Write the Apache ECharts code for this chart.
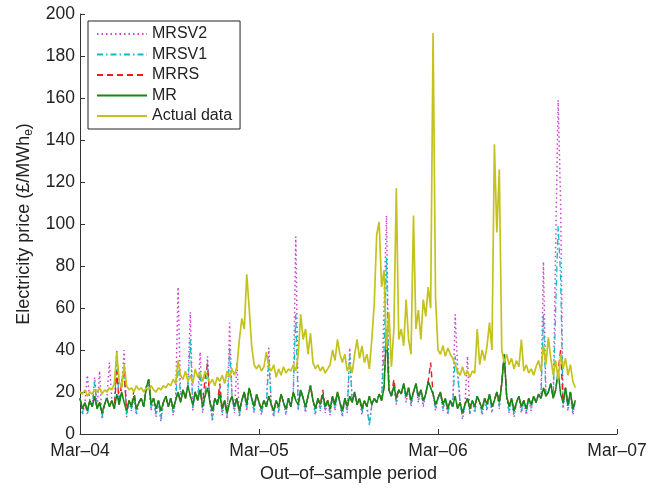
<!DOCTYPE html>
<html>
<head>
<meta charset="utf-8">
<script src="https://cdn.jsdelivr.net/npm/echarts@6/dist/echarts.min.js"></script>
<style>
  html, body { margin: 0; padding: 0; background: #fff; }
  #chart { width: 659px; height: 490px; }
</style>
</head>
<body>
<div id="chart"></div>
<script>
// Day offset from 1 Mar 2004 between consecutive samples
const stepDays = 5

const tickLabels = ['Mar–04', 'Mar–05', 'Mar–06', 'Mar–07']

const seriesNames = ['MRSV2', 'MRSV1', 'MRRS', 'MR', 'Actual data']

const mrsv2 = [
  17, 9, 15, 28, 16, 13, 27, 12, 30, 7,
  14, 18, 34, 16, 12, 40, 14, 22, 40, 8,
  16, 11, 18, 9, 15, 17, 13, 22, 26, 11,
  17, 8, 16, 6, 15, 18, 13, 17, 9, 16,
  70, 20, 21, 17, 23, 58, 11, 20, 16, 39,
  10, 18, 37, 15, 6, 17, 14, 22, 9, 16,
  7, 53, 18, 10, 34, 8, 16, 20, 11, 22,
  17, 10, 19, 15, 9, 16, 13, 41, 14, 8,
  16, 10, 19, 15, 9, 17, 13, 20, 94, 11,
  21, 17, 10, 18, 23, 16, 9, 17, 11, 19,
  10, 16, 9, 18, 11, 20, 15, 8, 17, 10,
  41, 15, 20, 14, 17, 9, 16, 13, 5, 14,
  17, 15, 19, 16, 60, 104, 21, 18, 23, 14,
  21, 19, 24, 15, 22, 13, 20, 24, 15, 21,
  13, 19, 25, 22, 19, 11, 17, 20, 11, 17,
  9, 16, 13, 57, 32, 15, 7, 14, 37, 9,
  16, 10, 18, 15, 9, 17, 11, 19, 10, 16,
  20, 12, 24, 38, 18, 10, 17, 8, 15, 18,
  10, 16, 9, 17, 11, 18, 15, 19, 17, 82,
  18, 20, 24, 17, 90, 159, 110, 12, 22, 11,
  20, 9, 16
]

const mrsv1 = [
  17, 10, 15, 9, 16, 13, 25, 12, 15, 8,
  14, 18, 13, 16, 12, 36, 14, 22, 30, 9,
  16, 12, 18, 10, 15, 17, 13, 22, 26, 12,
  17, 9, 16, 7, 15, 18, 13, 17, 10, 16,
  35, 18, 21, 17, 23, 45, 12, 20, 16, 30,
  11, 18, 34, 15, 7, 17, 14, 22, 10, 16,
  8, 41, 18, 11, 17, 9, 16, 20, 12, 22,
  17, 11, 19, 15, 10, 16, 13, 36, 14, 9,
  16, 11, 19, 15, 10, 17, 13, 20, 57, 12,
  21, 17, 11, 18, 23, 16, 10, 17, 12, 19,
  11, 16, 10, 18, 12, 20, 15, 9, 17, 11,
  38, 15, 20, 14, 17, 10, 16, 13, 4, 14,
  17, 15, 19, 16, 40, 84, 21, 18, 23, 15,
  21, 19, 24, 16, 22, 14, 20, 24, 16, 21,
  14, 19, 25, 22, 19, 12, 17, 20, 12, 17,
  10, 16, 13, 37, 28, 15, 8, 14, 17, 10,
  16, 11, 18, 15, 10, 17, 12, 19, 11, 16,
  20, 13, 24, 38, 18, 11, 17, 9, 15, 18,
  11, 16, 10, 17, 12, 18, 15, 19, 17, 57,
  18, 20, 24, 17, 60, 99, 75, 13, 22, 12,
  20, 10, 16
]

const mrrs = [
  17, 12, 15, 11, 16, 13, 18, 12, 15, 10,
  14, 17, 13, 16, 12, 30, 14, 25, 30, 11,
  16, 13, 21, 12, 15, 17, 13, 22, 26, 14,
  17, 12, 16, 11, 15, 18, 13, 17, 12, 16,
  20, 15, 21, 17, 23, 18, 14, 20, 16, 21,
  13, 27, 33, 15, 11, 17, 14, 24, 12, 16,
  10, 15, 18, 13, 17, 11, 16, 20, 14, 22,
  17, 13, 19, 15, 12, 16, 13, 18, 14, 11,
  16, 13, 19, 15, 12, 17, 13, 20, 16, 14,
  21, 17, 13, 18, 23, 16, 12, 17, 14, 21,
  13, 16, 12, 18, 14, 20, 15, 11, 17, 13,
  18, 15, 20, 14, 17, 12, 16, 13, 18, 14,
  17, 15, 19, 16, 22, 50, 21, 18, 26, 17,
  21, 19, 24, 18, 22, 16, 20, 24, 18, 21,
  16, 19, 25, 34, 19, 14, 17, 20, 14, 17,
  12, 16, 13, 18, 12, 15, 10, 14, 17, 12,
  16, 13, 18, 15, 12, 17, 14, 19, 13, 16,
  20, 15, 24, 38, 18, 13, 17, 11, 15, 18,
  13, 16, 12, 17, 14, 18, 15, 19, 17, 22,
  18, 20, 24, 17, 21, 30, 40, 15, 22, 14,
  20, 12, 16
]

const mr = [
  17, 12, 15, 11, 16, 13, 18, 12, 15, 10,
  14, 17, 13, 16, 12, 19, 14, 20, 15, 11,
  16, 13, 18, 12, 15, 17, 13, 22, 26, 14,
  17, 12, 16, 11, 15, 18, 13, 17, 12, 16,
  20, 15, 21, 17, 23, 18, 14, 20, 16, 21,
  13, 18, 22, 15, 11, 17, 14, 19, 12, 16,
  10, 15, 18, 13, 17, 11, 16, 20, 14, 22,
  17, 13, 19, 15, 12, 16, 13, 18, 14, 11,
  16, 13, 19, 15, 12, 17, 13, 20, 16, 14,
  21, 17, 13, 18, 23, 16, 12, 17, 14, 19,
  13, 16, 12, 18, 14, 20, 15, 11, 17, 13,
  18, 15, 20, 14, 17, 12, 16, 13, 18, 14,
  17, 15, 19, 16, 22, 50, 21, 18, 23, 17,
  21, 19, 24, 18, 22, 16, 20, 24, 18, 21,
  16, 19, 25, 22, 19, 14, 17, 20, 14, 17,
  12, 16, 13, 18, 12, 15, 10, 14, 17, 12,
  16, 13, 18, 15, 12, 17, 14, 19, 13, 16,
  20, 15, 24, 38, 18, 13, 17, 11, 15, 18,
  13, 16, 12, 17, 14, 18, 15, 19, 17, 22,
  18, 20, 24, 17, 21, 30, 19, 15, 22, 14,
  20, 12, 16
]

const actual = [
  20, 19, 21, 18, 20, 19, 21, 20, 22, 19,
  21, 20, 22, 21, 24, 39, 25, 22, 33, 23,
  21, 22, 20, 23, 21, 22, 20, 22, 21, 23,
  21, 20, 22, 21, 23, 22, 24, 23, 26, 24,
  35, 28, 26, 30, 25, 28, 24, 31, 27, 29,
  25, 30, 27, 24, 26, 23, 27, 25, 28, 24,
  30, 27, 31, 28, 32, 45, 55, 50, 76, 60,
  42, 33, 31, 33, 30, 32, 39, 32, 30, 33,
  27, 31, 28, 32, 29, 31, 30, 33, 30, 38,
  57, 45, 50, 38, 48, 34, 31, 33, 30, 32,
  29, 31, 33, 40, 35, 45, 38, 34, 38, 30,
  33, 29, 38, 45, 36, 42, 34, 38, 31, 45,
  62, 95, 101, 70, 78, 40, 58, 32, 50, 117,
  45, 50, 42, 64, 45, 38, 104, 50, 59, 45,
  64, 56, 70, 60, 191, 65, 40, 38, 42, 37,
  41, 38, 36, 33, 30, 28, 32, 28, 30, 27,
  30, 29, 50, 33, 40, 35, 42, 53, 40, 138,
  96, 126, 40, 34, 38, 33, 36, 31, 35, 32,
  45, 30, 33, 29, 31, 28, 32, 35, 30, 42,
  33, 46, 36, 28, 35, 26, 38, 31, 36, 28,
  33, 25, 22
]

const font = '"Liberation Sans", Arial, Helvetica, sans-serif'

const toPairs = values => values.map( ( v, i ) => [i * stepDays, v] )

const makeSeries = ( name, values, color, type, width ) => ( {
  name,
  type : 'line',
  data : toPairs( values ),
  symbol : 'none',
  animation : false,
  lineStyle : { color, type, width },
  itemStyle : { color }
} )

const chart = echarts.init( document.getElementById( 'chart' ) )

chart.setOption( {
  backgroundColor : '#fff',
  textStyle : { fontFamily : font },
  grid : { left : 80, right : 42, top : 14, bottom : 56 },
  legend : {
    orient : 'vertical',
    left : 88,
    top : 21,
    data : seriesNames,
    itemWidth : 50,
    itemHeight : 12,
    itemGap : 4.5,
    padding : [5, 8, 5, 8],
    borderColor : '#222',
    borderWidth : 1,
    backgroundColor : '#fff',
    // hide the symbol dot, keep only the line sample
    itemStyle : { opacity : 0 },
    textStyle : { fontFamily : font, fontSize : 16, color : '#222' }
  },
  xAxis : {
    type : 'value',
    min : 0,
    max : 1095,
    interval : 365,
    name : 'Out–of–sample period',
    nameLocation : 'middle',
    nameGap : 31,
    nameTextStyle : { fontFamily : font, fontSize : 18, color : '#222' },
    axisLine : { lineStyle : { color : '#333', width : 1 } },
    axisTick : { inside : true, length : 5, lineStyle : { color : '#333' } },
    axisLabel : {
      margin : 8,
      fontSize : 17.5,
      color : '#222',
      formatter : v => tickLabels[Math.round( v / 365 )]
    },
    splitLine : { show : false }
  },
  yAxis : {
    type : 'value',
    min : 0,
    max : 200,
    interval : 20,
    name : '{a|Electricity price (£/MWh}{b|e}{a|)}',
    nameLocation : 'middle',
    nameGap : 43,
    nameTextStyle : {
      rich : {
        a : { fontFamily : font, fontSize : 18, color : '#222' },
        b : { fontFamily : font, fontSize : 12, color : '#222', padding : [10, 0, 0, 0] }
      }
    },
    axisLine : { show : true, lineStyle : { color : '#333', width : 1 } },
    axisTick : { show : true, inside : true, length : 5, lineStyle : { color : '#333' } },
    axisLabel : { margin : 5, fontSize : 17.5, color : '#222' },
    splitLine : { show : false }
  },
  series : [
    makeSeries( 'MRSV2', mrsv2, '#d040d0', [1.5, 3], 1.5 ),
    makeSeries( 'MRSV1', mrsv1, '#11bbc4', [6, 3, 1.5, 3], 1.3 ),
    makeSeries( 'MRRS', mrrs, '#ee1c1c', [6, 4], 1.4 ),
    makeSeries( 'MR', mr, '#138a13', 'solid', 1.5 ),
    makeSeries( 'Actual data', actual, '#c4c21c', 'solid', 1.7 )
  ]
} )
</script>
</body>
</html>
